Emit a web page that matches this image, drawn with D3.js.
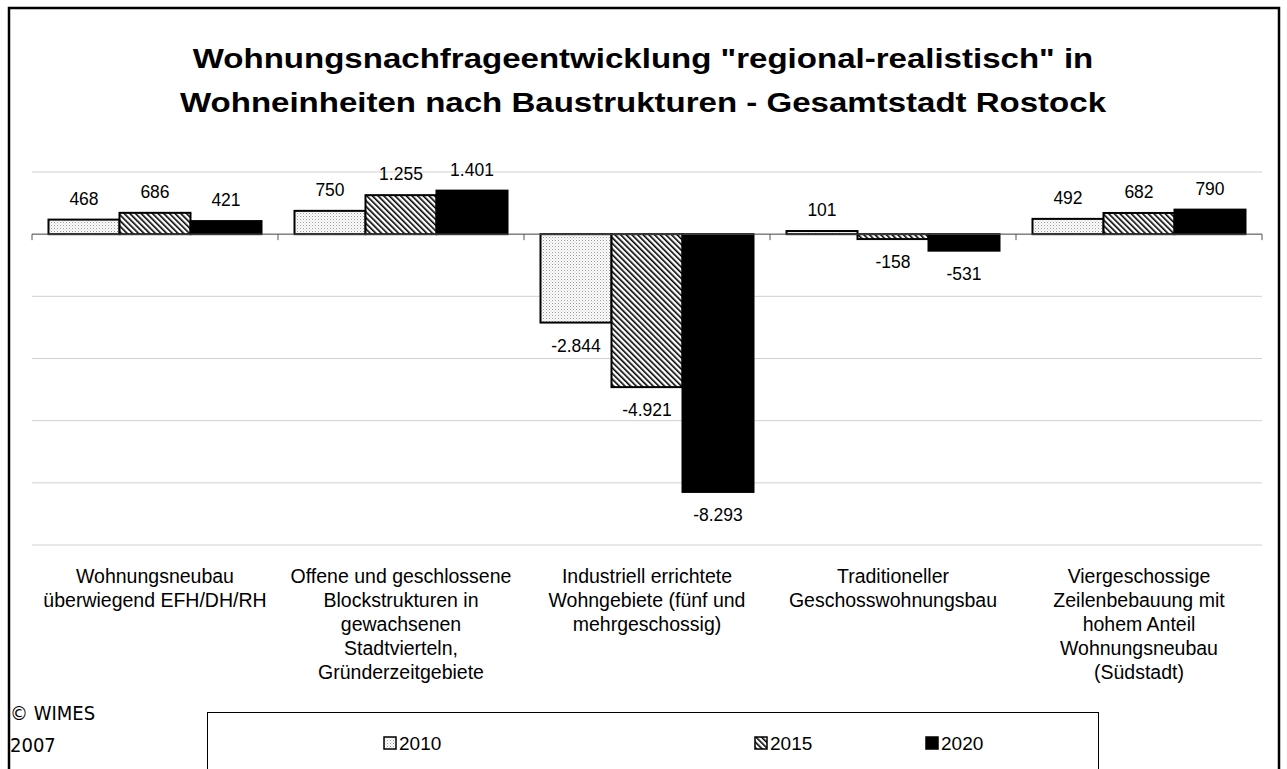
<!DOCTYPE html>
<html>
<head>
<meta charset="utf-8">
<script src="https://cdn.jsdelivr.net/npm/d3@7"></script>
<style>
  body { margin: 0; background: #fff; }
  svg { font-family: Arial, "Liberation Sans", sans-serif; }
</style>
</head>
<body>
<div id="chart-area"></div>
<script>
// data
const categories = [
    ["Wohnungsneubau", "überwiegend EFH/DH/RH"],
    ["Offene und geschlossene", "Blockstrukturen in", "gewachsenen", "Stadtvierteln,", "Gründerzeitgebiete"],
    ["Industriell errichtete", "Wohngebiete (fünf und", "mehrgeschossig)"],
    ["Traditioneller", "Geschosswohnungsbau"],
    ["Viergeschossige", "Zeilenbebauung mit", "hohem Anteil", "Wohnungsneubau", "(Südstadt)"]
]
const years = ["2010", "2015", "2020"]
const values2010 = [468, 750, -2844, 101, 492]
const values2015 = [686, 1255, -4921, -158, 682]
const values2020 = [421, 1401, -8293, -531, 790]
const gridTicks = [2000, 0, -2000, -4000, -6000, -8000, -10000]

const series = [values2010, values2015, values2020]
const fills = ["url(#dots)", "url(#hatch)", "#000"]

const W = 1287, H = 769
const svg = d3.select("#chart-area").append("svg")
    .attr("width", W)
    .attr("height", H)

// patterns for the bars
const defs = svg.append("defs")
const dots = defs.append("pattern")
    .attr("id", "dots")
    .attr("patternUnits", "userSpaceOnUse")
    .attr("width", 3).attr("height", 3)
dots.append("rect").attr("width", 3).attr("height", 3).attr("fill", "#fff")
dots.append("rect").attr("width", 1).attr("height", 1).attr("fill", "#999")
dots.append("rect").attr("x", 1.5).attr("y", 1.5).attr("width", 1).attr("height", 1).attr("fill", "#bbb")

const hatch = defs.append("pattern")
    .attr("id", "hatch")
    .attr("patternUnits", "userSpaceOnUse")
    .attr("width", 4).attr("height", 4)
    .attr("patternTransform", "rotate(-45)")
hatch.append("rect").attr("width", 4).attr("height", 4).attr("fill", "#fff")
hatch.append("rect").attr("width", 1.6).attr("height", 4).attr("fill", "#000")

// outer frame
svg.append("path")
    .attr("d", `M9,${H + 5} V8 H1279 V${H + 5}`)
    .attr("fill", "none")
    .attr("stroke", "#000")
    .attr("stroke-width", 2.5)

// title (the original is drawn wider than Arial, so stretch it a bit)
svg.append("text")
    .attr("transform", "translate(643,0) scale(1.18,1)")
    .attr("text-anchor", "middle")
    .attr("font-size", 28).attr("font-weight", "bold")
    .selectAll("tspan")
    .data(['Wohnungsnachfrageentwicklung "regional-realistisch" in', "Wohneinheiten nach Baustrukturen - Gesamtstadt Rostock"])
    .enter().append("tspan")
    .attr("x", 0)
    .attr("y", (d, i) => 68 + i * 44)
    .text(d => d)

// scales
const x0 = d3.scaleBand()
    .domain(d3.range(categories.length))
    .range([32, 1262])
const x1 = d3.scaleBand()
    .domain(years)
    .range([16.5, x0.bandwidth() - 16.5])
const y = d3.scaleLinear()
    .domain([-10000, 2000])
    .range([545, 172])

// gridlines
svg.append("g").selectAll("line")
    .data(gridTicks)
    .enter().append("line")
    .attr("x1", 32).attr("x2", 1262)
    .attr("y1", d => y(d)).attr("y2", d => y(d))
    .attr("stroke", "#d0d0d0")
    .attr("stroke-width", 1)

// bars
series.forEach((vals, si) => {
    svg.append("g").selectAll("rect")
        .data(vals)
        .enter().append("rect")
        .attr("x", (d, i) => x0(i) + x1(years[si]))
        .attr("y", d => y(Math.max(0, d)))
        .attr("width", x1.bandwidth())
        .attr("height", d => Math.abs(y(d) - y(0)))
        .attr("fill", fills[si])
        .attr("stroke", "#000")
        .attr("stroke-width", 2)

    svg.append("g").selectAll("text")
        .data(vals)
        .enter().append("text")
        .attr("x", (d, i) => x0(i) + x1(years[si]) + x1.bandwidth() / 2)
        .attr("y", d => d >= 0 ? y(d) - 15 : y(d) + 29)
        .attr("text-anchor", "middle")
        .attr("font-size", 17.5)
        .text(d => d3.format(",")(d).replace(/,/g, ".").replace("−", "-"))
})

// zero axis with category ticks
const axis = svg.append("g")
axis.append("line")
    .attr("x1", 32).attr("x2", 1262)
    .attr("y1", y(0)).attr("y2", y(0))
    .attr("stroke", "#555").attr("stroke-width", 1)
axis.selectAll(".tick")
    .data(d3.range(categories.length + 1))
    .enter().append("line")
    .attr("x1", d => 32 + d * x0.step()).attr("x2", d => 32 + d * x0.step())
    .attr("y1", y(0)).attr("y2", y(0) + 6)
    .attr("stroke", "#555")

// category labels
svg.append("g").selectAll("text")
    .data(categories)
    .enter().append("text")
    .attr("text-anchor", "middle")
    .attr("font-size", 19.5)
    .each(function(lines, i) {
        d3.select(this).selectAll("tspan")
            .data(lines)
            .enter().append("tspan")
            .attr("x", x0(i) + x0.bandwidth() / 2)
            .attr("y", (d, j) => 583 + j * 24)
            .text(d => d)
    })

// copyright
svg.append("text")
    .attr("font-family", "'Liberation Sans Narrow', 'DejaVu Sans Condensed', sans-serif")
    .attr("font-size", 20)
    .selectAll("tspan")
    .data(["© WIMES", "2007"])
    .enter().append("tspan")
    .attr("x", 10)
    .attr("y", (d, i) => 720 + i * 32)
    .text(d => d)

// legend
svg.append("rect")
    .attr("x", 207.5).attr("y", 712.5)
    .attr("width", 891).attr("height", 60)
    .attr("fill", "#fff")
    .attr("stroke", "#000")
const legendX = [384, 755, 926]
const legend = svg.append("g").selectAll("g")
    .data(years)
    .enter().append("g")
    .attr("transform", (d, i) => `translate(${legendX[i]},743)`)
legend.append("rect")
    .attr("x", 0).attr("y", -6)
    .attr("width", 12).attr("height", 12)
    .attr("fill", (d, i) => fills[i])
    .attr("stroke", "#000")
    .attr("stroke-width", 1.5)
legend.append("text")
    .attr("x", 15).attr("y", 7)
    .attr("font-size", 19)
    .text(d => d)
</script>
</body>
</html>
